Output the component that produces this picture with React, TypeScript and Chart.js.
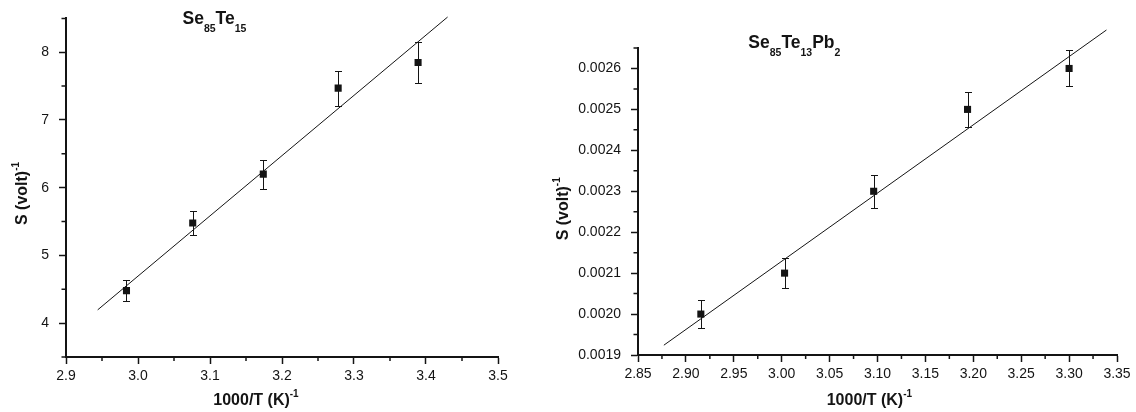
import React, { useEffect, useRef } from 'react';
import { Chart, registerables } from 'chart.js';

Chart.register(...registerables);

const FONT = '"Liberation Sans", Arial, Helvetica, sans-serif';
const INK = '#141414';

// ---------- Panel A : Se85Te15 ----------
const aInvT = [2.984, 3.076, 3.174, 3.278, 3.389];
const aS = [4.48, 5.48, 6.2, 7.47, 7.85];
const aErr = [0.15, 0.18, 0.215, 0.26, 0.3];
const aFitX = [2.944, 3.43];
const aFitY = [4.196, 8.52];
const aXTicks = [2.9, 3.0, 3.1, 3.2, 3.3, 3.4, 3.5];
const aXMinor = [2.95, 3.05, 3.15, 3.25, 3.35, 3.45];
const aYTicks = [4, 5, 6, 7, 8];
const aYMinor = [3.5, 4.5, 5.5, 6.5, 7.5, 8.5];
const aTitle: [string, string][] = [['Se', 'n'], ['85', 's'], ['Te', 'n'], ['15', 's']];

// ---------- Panel B : Se85Te13Pb2 ----------
const bInvT = [2.9156, 3.003, 3.096, 3.194, 3.3];
const bS = [0.002, 0.0021, 0.0023, 0.0025, 0.0026];
const bErr = [0.000034, 0.000036, 0.00004, 0.000043, 0.000044];
const bFitX = [2.877, 3.339];
const bFitY = [0.001924, 0.002694];
const bXTicks = [2.85, 2.9, 2.95, 3.0, 3.05, 3.1, 3.15, 3.2, 3.25, 3.3, 3.35];
const bXMinor = [2.875, 2.925, 2.975, 3.025, 3.075, 3.125, 3.175, 3.225, 3.275, 3.325];
const bYTicks = [0.0019, 0.002, 0.0021, 0.0022, 0.0023, 0.0024, 0.0025, 0.0026];
const bYMinor = [0.00195, 0.00205, 0.00215, 0.00225, 0.00235, 0.00245, 0.00255, 0.00265];
const bTitle: [string, string][] = [['Se', 'n'], ['85', 's'], ['Te', 'n'], ['13', 's'], ['Pb', 'n'], ['2', 's']];

const yTitleSegs: [string, string][] = [['S (volt)', 'n'], ['-1', 'p']];
const xTitleSegs: [string, string][] = [['1000/T (K)', 'n'], ['-1', 'p']];

type PanelDef = {
  left: number; width: number;
  xs: number[]; ys: number[]; errs: number[]; fitX: number[]; fitY: number[];
  xTicks: number[]; xMinor: number[]; yTicks: number[]; yMinor: number[];
  xMin: number; xMax: number; yMin: number; yMax: number; xDec: number; yDec: number;
  pad: { top: number; left: number; right: number; bottom: number };
  yAxisW: number; xAxisH: number;
  title: [string, string][]; titleX: number; titleY: number;
  yTitleX: number; yTitleY: number; xTitleX: number; xTitleY: number;
};

const panels: PanelDef[] = [
  {
    left: 0, width: 540,
    xs: aInvT, ys: aS, errs: aErr, fitX: aFitX, fitY: aFitY,
    xTicks: aXTicks, xMinor: aXMinor, yTicks: aYTicks, yMinor: aYMinor,
    xMin: 2.9, xMax: 3.5, yMin: 3.5, yMax: 8.5, xDec: 1, yDec: 0,
    pad: { top: 15, left: 0, right: 42, bottom: 0 },
    yAxisW: 66, xAxisH: 55,
    title: aTitle, titleX: 182.5, titleY: 24,
    yTitleX: 26.5, yTitleY: 193.5, xTitleX: 256, xTitleY: 405,
  },
  {
    left: 540, width: 596,
    xs: bInvT, ys: bS, errs: bErr, fitX: bFitX, fitY: bFitY,
    xTicks: bXTicks, xMinor: bXMinor, yTicks: bYTicks, yMinor: bYMinor,
    xMin: 2.85, xMax: 3.35, yMin: 0.0019, yMax: 0.00265, xDec: 2, yDec: 4,
    pad: { top: 48, left: 0, right: 19, bottom: 0 },
    yAxisW: 98, xAxisH: 57,
    title: bTitle, titleX: 208.3, titleY: 48.3,
    yTitleX: 28, yTitleY: 208.8, xTitleX: 329.4, xTitleY: 405,
  },
];

const MAIN_SIZE = 16;
const SMALL_SIZE = 10;

function segFont(kind: string, main: number, small: number) {
  return `bold ${kind === 'n' ? main : small}px ${FONT}`;
}

function drawRich(
  ctx: CanvasRenderingContext2D, segs: [string, string][], x: number, baseline: number,
  main: number, small: number, align: 'center' | 'left',
) {
  let total = 0;
  const widths = segs.map(([t, k]) => {
    ctx.font = segFont(k, main, small);
    const w = ctx.measureText(t).width;
    total += w;
    return w;
  });
  let cx = align === 'center' ? x - total / 2 : x;
  ctx.textAlign = 'left';
  ctx.textBaseline = 'alphabetic';
  segs.forEach(([t, k], i) => {
    ctx.font = segFont(k, main, small);
    const dy = k === 's' ? 7.5 : k === 'p' ? -8 : 0;
    ctx.fillText(t, cx, baseline + dy);
    cx += widths[i];
  });
}

function makeDecor(p: PanelDef) {
  return {
    id: 'panelDecor',
    beforeDatasetsDraw(chart: any) {
      const { ctx } = chart;
      const x = chart.scales.x;
      const y = chart.scales.y;
      ctx.save();
      ctx.strokeStyle = INK;
      ctx.lineWidth = 1;
      p.xs.forEach((xv, i) => {
        const px = Math.round(x.getPixelForValue(xv)) + 0.5;
        const t = Math.round(y.getPixelForValue(p.ys[i] + p.errs[i])) + 0.5;
        const b = Math.round(y.getPixelForValue(p.ys[i] - p.errs[i])) + 0.5;
        ctx.beginPath();
        ctx.moveTo(px, t); ctx.lineTo(px, b);
        ctx.moveTo(px - 3.5, t); ctx.lineTo(px + 3.5, t);
        ctx.moveTo(px - 3.5, b); ctx.lineTo(px + 3.5, b);
        ctx.stroke();
      });
      ctx.restore();
    },
    afterDraw(chart: any) {
      const { ctx, chartArea } = chart;
      const x = chart.scales.x;
      const y = chart.scales.y;
      ctx.save();
      ctx.strokeStyle = INK;
      ctx.lineWidth = 1.5;
      ctx.beginPath();
      p.xMinor.forEach((v) => {
        const px = x.getPixelForValue(v);
        ctx.moveTo(px, chartArea.bottom);
        ctx.lineTo(px, chartArea.bottom + 4);
      });
      p.yMinor.forEach((v) => {
        const py = y.getPixelForValue(v);
        ctx.moveTo(chartArea.left, py);
        ctx.lineTo(chartArea.left - 4.5, py);
      });
      ctx.stroke();

      ctx.fillStyle = INK;
      // chart title with subscripts
      drawRich(ctx, p.title, p.titleX, p.titleY, 17.5, 10.5, 'left');
      // x axis title
      drawRich(ctx, xTitleSegs, p.xTitleX, p.xTitleY, MAIN_SIZE, SMALL_SIZE, 'center');
      // y axis title (rotated)
      ctx.save();
      ctx.translate(p.yTitleX, p.yTitleY);
      ctx.rotate(-Math.PI / 2);
      drawRich(ctx, yTitleSegs, 0, 0, MAIN_SIZE, SMALL_SIZE, 'center');
      ctx.restore();
      ctx.restore();
    },
  };
}

function makeConfig(p: PanelDef): any {
  const tickFont = { family: FONT, size: 14 };
  const grid = {
    display: true, drawOnChartArea: false, drawTicks: true,
    tickLength: 7, tickWidth: 1.5, tickColor: INK, color: INK,
  };
  const border = { display: true, color: INK, width: 2 };
  return {
    type: 'scatter',
    data: {
      datasets: [
        {
          label: 'S',
          data: p.xs.map((xv, i) => ({ x: xv, y: p.ys[i] })),
          pointStyle: 'rect', pointRadius: 5, pointHoverRadius: 5,
          backgroundColor: INK, borderColor: INK, borderWidth: 0,
          showLine: false,
        },
        {
          type: 'line',
          label: 'fit',
          data: p.fitX.map((xv, i) => ({ x: xv, y: p.fitY[i] })),
          borderColor: INK, borderWidth: 1, pointRadius: 0, fill: false,
          showLine: true, clip: false, tension: 0,
        },
      ],
    },
    options: {
      responsive: false,
      animation: false,
      events: [],
      devicePixelRatio: 1,
      layout: { padding: p.pad },
      plugins: { legend: { display: false }, tooltip: { enabled: false }, title: { display: false } },
      scales: {
        x: {
          type: 'linear', position: 'bottom', min: p.xMin, max: p.xMax,
          afterBuildTicks: (s: any) => { s.ticks = p.xTicks.map((v) => ({ value: v })); },
          afterFit: (s: any) => { s.height = p.xAxisH; },
          ticks: {
            font: tickFont, color: INK, padding: 4, maxRotation: 0, autoSkip: false,
            callback: (v: any) => Number(v).toFixed(p.xDec),
          },
          grid, border,
          title: { display: false },
        },
        y: {
          type: 'linear', position: 'left', min: p.yMin, max: p.yMax,
          afterBuildTicks: (s: any) => { s.ticks = p.yTicks.map((v) => ({ value: v })); },
          afterFit: (s: any) => { s.width = p.yAxisW; },
          ticks: {
            font: tickFont, color: INK, padding: 10, autoSkip: false,
            callback: (v: any) => Number(v).toFixed(p.yDec),
          },
          grid, border,
          title: { display: false },
        },
      },
    },
    plugins: [makeDecor(p)],
  };
}

function Panel({ p }: { p: PanelDef }) {
  const ref = useRef<HTMLCanvasElement | null>(null);
  useEffect(() => {
    if (!ref.current) return;
    const chart = new Chart(ref.current, makeConfig(p));
    return () => chart.destroy();
  }, [p]);
  return (
    <canvas
      ref={ref}
      width={p.width}
      height={412}
      style={{ position: 'absolute', left: p.left, top: 0, width: p.width, height: 412 }}
    />
  );
}

export default function App() {
  return (
    <div style={{ position: 'fixed', left: 0, top: 0, width: 1136, height: 412, background: '#ffffff', overflow: 'hidden' }}>
      {panels.map((p, i) => <Panel key={i} p={p} />)}
    </div>
  );
}
